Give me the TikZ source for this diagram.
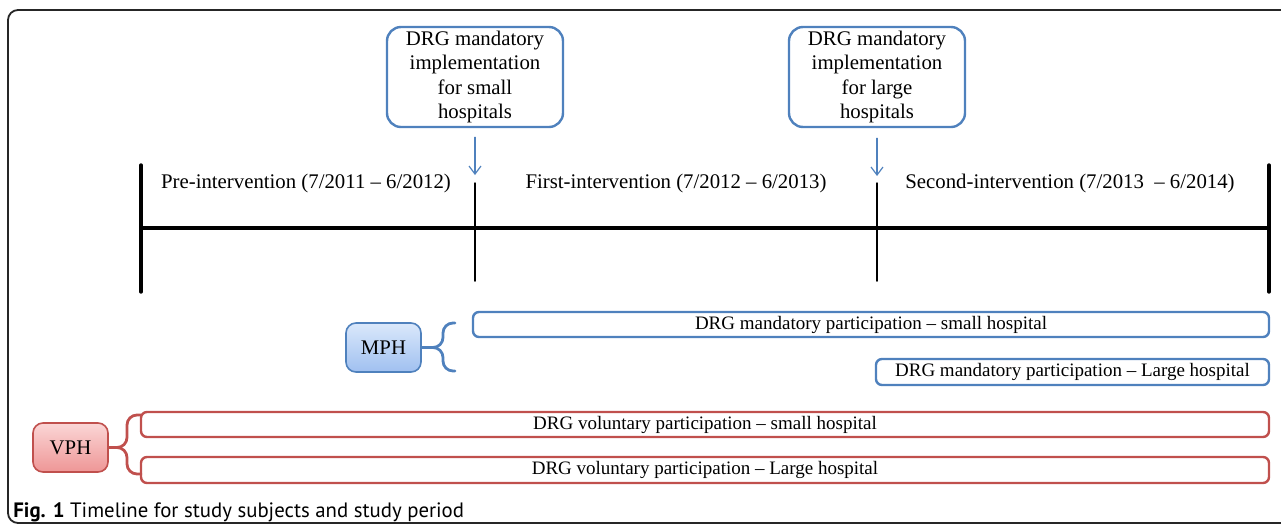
\documentclass[tikz,border=0pt]{standalone}
\usepackage{fontspec}
\setmainfont{Liberation Serif}
\newfontfamily\capfont{PT Sans}
\usetikzlibrary{arrows.meta}
\definecolor{mblue}{RGB}{79,129,189}
\definecolor{vred}{RGB}{192,80,77}
\definecolor{mphtop}{RGB}{218,232,251}
\definecolor{mphbot}{RGB}{160,192,240}
\definecolor{vphtop}{RGB}{251,214,214}
\definecolor{vphbot}{RGB}{238,150,150}
\tikzset{
  impbox/.style={draw=mblue,line width=1.2pt,rounded corners=7pt,align=center,minimum width=88pt,minimum height=50pt,inner sep=0pt,font=\fontsize{10.4}{12.3}\selectfont},
  period/.style={inner sep=0pt,font=\fontsize{10.4}{12.3}\selectfont},
  mbar/.style={draw=mblue,line width=1.2pt,rounded corners=3pt,inner sep=0pt,font=\fontsize{9.5}{11}\selectfont},
  vbar/.style={mbar,draw=vred},
  grpbox/.style={line width=0.8pt,rounded corners=5pt,minimum width=37.5pt,minimum height=24.5pt,inner sep=0pt,font=\fontsize{10.4}{12.3}\selectfont},
  mbrace/.style={draw=mblue,line width=1.4pt,rounded corners=5pt},
  vbrace/.style={mbrace,draw=vred},
  thickline/.style={line width=1.7pt},
  thinline/.style={line width=0.75pt}
}
\begin{document}
\begin{tikzpicture}[x=0.5pt,y=-0.5pt,line cap=round,line join=round,>={Straight Barb[length=4pt,width=6pt]}]
      \useasboundingbox (0,0) rectangle (1281,526);
      \clip (0,0) rectangle (1281,526);
      \draw [line width=0.9pt,black!85,rounded corners=5pt] (8,10) rectangle (1300,523);
      \node [impbox] (smallimp) at (475,77) {DRG mandatory\\implementation\\for small\\hospitals};
      \node [impbox] (largeimp) at (877,77) {DRG mandatory\\implementation\\for large\\hospitals};
      \coordinate (t0a) at (141,165);
      \coordinate (t0b) at (141,292);
      \coordinate (t1a) at (475,183);
      \coordinate (t1b) at (475,281);
      \coordinate (t2a) at (877,183);
      \coordinate (t2b) at (877,281);
      \coordinate (t3a) at (1269,165);
      \coordinate (t3b) at (1269,292);
      \coordinate (axl) at (141,228);
      \coordinate (axr) at (1269,228);
      \draw [thickline] (axl) -- (axr);
      \draw [thickline] (t0a) -- (t0b);
      \draw [thickline] (t3a) -- (t3b);
      \draw [thinline] (t1a) -- (t1b);
      \draw [thinline] (t2a) -- (t2b);
      \draw [->,mblue,line width=0.6pt,shorten <=4.5pt,shorten >=4pt] (smallimp) -- (t1a);
      \draw [->,mblue,line width=0.6pt,shorten <=5pt,shorten >=3.5pt] (largeimp) -- (t2a);
      \node [period] (pre) at (306,183) {Pre-intervention (7/2011 – 6/2012)};
      \node [period] (first) at (676,183) {First-intervention (7/2012 – 6/2013)};
      \node [period] (second) at (1070,183) {Second-intervention (7/2013 \ – 6/2014)};
      \node [mbar,minimum width=398pt,minimum height=12.5pt] (msmall) at (871,324.5) {DRG mandatory participation – small hospital};
      \node [mbar,minimum width=196.5pt,minimum height=13pt] (mlarge) at (1072.5,372) {DRG mandatory participation – Large\ hospital};
      \node [vbar,minimum width=564pt,minimum height=12.5pt] (vsmall) at (705,424.5) {DRG voluntary participation – small hospital};
      \node [vbar,minimum width=564pt,minimum height=13pt] (vlarge) at (705,470) {DRG voluntary participation – Large hospital};
      \node [grpbox,draw=mblue,top color=mphtop,bottom color=mphbot] (mph) at (383.5,347.5) {MPH};
      \node [grpbox,draw=vred,top color=vphtop,bottom color=vphbot] (vph) at (70.5,447.5) {VPH};
      \draw [mbrace] (455,323) -- (443,323) -- (443,347.5) -- (mph.east);
      \draw [mbrace] (455,371) -- (443,371) -- (443,347.5) -- (mph.east);
      \draw [vbrace] (141,415) -- (127,415) -- (127,447.5) -- (vph.east);
      \draw [vbrace] (141,474) -- (127,474) -- (127,447.5) -- (vph.east);
      \node [anchor=west,inner sep=0pt,font=\capfont\fontsize{10.4}{12}\selectfont] (caption) at (13,512) {\textbf{Fig. 1} Timeline for study subjects and study period};
    \end{tikzpicture}
\end{document}
